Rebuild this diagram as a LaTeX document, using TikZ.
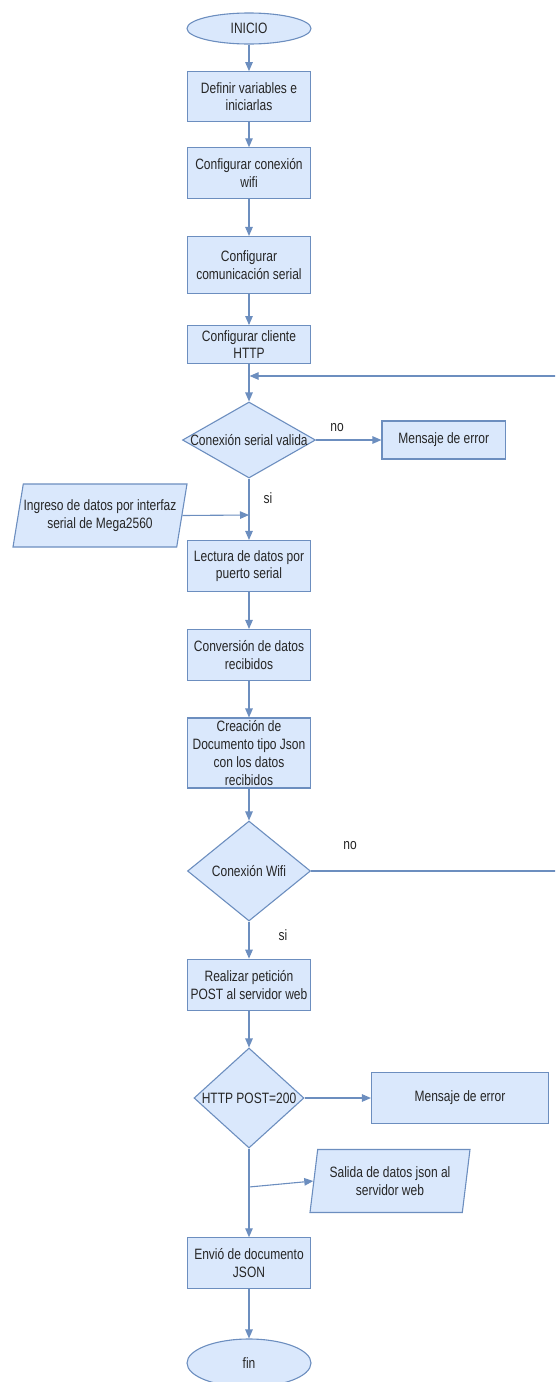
\documentclass[tikz,border=0pt]{standalone}
\usepackage{fontspec}
\usetikzlibrary{shapes.geometric,arrows.meta}
\newfontfamily\chartfont[FakeStretch=0.8]{Liberation Sans}
\definecolor{boxfill}{HTML}{DAE8FC}
\definecolor{boxline}{HTML}{6C8EBF}
\definecolor{ink}{HTML}{262626}
\tikzset{
  base/.style={draw=boxline, fill=boxfill, line width=1.1pt, text=ink, inner sep=0pt,
    align=center, font=\chartfont\fontsize{15}{17.7}\selectfont},
  proc/.style={base, rectangle, minimum width=123.4},
  term/.style={base, ellipse, minimum width=124},
  dec/.style={base, diamond},
  io/.style={base, trapezium, trapezium stretches body, minimum height=63},
  flow/.style={draw=boxline, line width=1.1pt, -{Triangle[length=9pt,width=7.5pt]}},
  lbl/.style={text=ink, inner sep=0pt, font=\chartfont\fontsize{15}{17.7}\selectfont},
}
\begin{document}
\begin{tikzpicture}[x=1pt, y=-1pt]
\clip (0,0) rectangle (555,1382);
\useasboundingbox (0,0) rectangle (555,1382);

% main column
\node[term, minimum height=31] (start) at (249,28.5) {INICIO};
\node[proc, minimum height=50] (b1) at (249,96.7) {Definir variables e\\iniciarlas};
\node[proc, minimum height=51] (b2) at (249,173.3) {Configurar conexión\\wifi};
\node[proc, minimum height=57] (b3) at (249,265) {Configurar\\comunicación serial};
\node[proc, minimum height=38] (b4) at (249,344.6) {Configurar cliente\\HTTP};
\node[dec, minimum width=133, minimum height=76] (d1) at (249,440) {};
\node[lbl] (d1t) at (d1.center) {Conexión serial valida};
\node[proc, minimum height=38] (err1) at (443.7,440) {Mensaje de error};
\node[io, trapezium left angle=72, trapezium right angle=108, minimum width=174] (p1) at (100,515.5) {Ingreso de datos por interfaz\\serial de Mega2560};
\node[proc, minimum height=51] (b5) at (249,566) {Lectura de datos por\\puerto serial};
\node[proc, minimum height=51] (b6) at (249,655) {Conversión de datos\\recibidos};
\node[proc, minimum height=70] (b7) at (249,753) {Creación de\\Documento tipo Json\\con los datos\\recibidos};
\node[dec, minimum width=123, minimum height=100] (d2) at (249,871) {};
\node[lbl] (d2t) at (d2.center) {Conexión Wifi};
\node[proc, minimum height=51] (b8) at (249,984.7) {Realizar petición\\POST al servidor web};
\node[dec, minimum width=110, minimum height=100] (d3) at (249,1098) {};
\node[lbl] (d3t) at (d3.center) {HTTP POST=200};
\node[proc, minimum width=177, minimum height=51] (err2) at (460,1098) {Mensaje de error};
\node[io, trapezium left angle=75, trapezium right angle=105, minimum width=160] (p2) at (390,1181) {Salida de datos json al\\servidor web};
\node[proc, minimum height=51] (b9) at (249,1263.3) {Envió de documento\\JSON};
\node[term, minimum height=48] (stop) at (249,1363) {fin};

% branch labels
\node[lbl] (no1) at (337,428) {no};
\node[lbl] (si1) at (268,498) {si};
\node[lbl] (no2) at (350,846) {no};
\node[lbl] (si2) at (283,935) {si};

% junction points
\coordinate (jtop) at (249.6,376);
\coordinate (rtop) at (562,376);
\coordinate (rbot) at (562,871);
\coordinate (jin) at (249,515);
\coordinate (jout) at (249,1187);

% connectors
\draw[flow] (start) -- (b1);
\draw[flow] (b1) -- (b2);
\draw[flow] (b2) -- (b3);
\draw[flow] (b3) -- (b4);
\draw[flow] (b4) -- (d1);
\draw[flow] (d1.east) -- (err1.west);
\draw[flow] (d1.south) -- (b5.north);
\draw[flow] (p1.east) -- (jin);
\draw[flow] (b5) -- (b6);
\draw[flow] (b6) -- (b7);
\draw[flow] (b7) -- (d2);
\draw[flow] (d2.south) -- (b8.north);
\draw[flow] (d2.east) -- (rbot) -- (rtop) -- (jtop);
\draw[flow] (b8) -- (d3);
\draw[flow] (d3.east) -- (err2.west);
\draw[flow] (d3.south) -- (b9.north);
\draw[flow] (jout) -- (p2.west);
\draw[flow] (b9) -- (stop);
\end{tikzpicture}
\end{document}
